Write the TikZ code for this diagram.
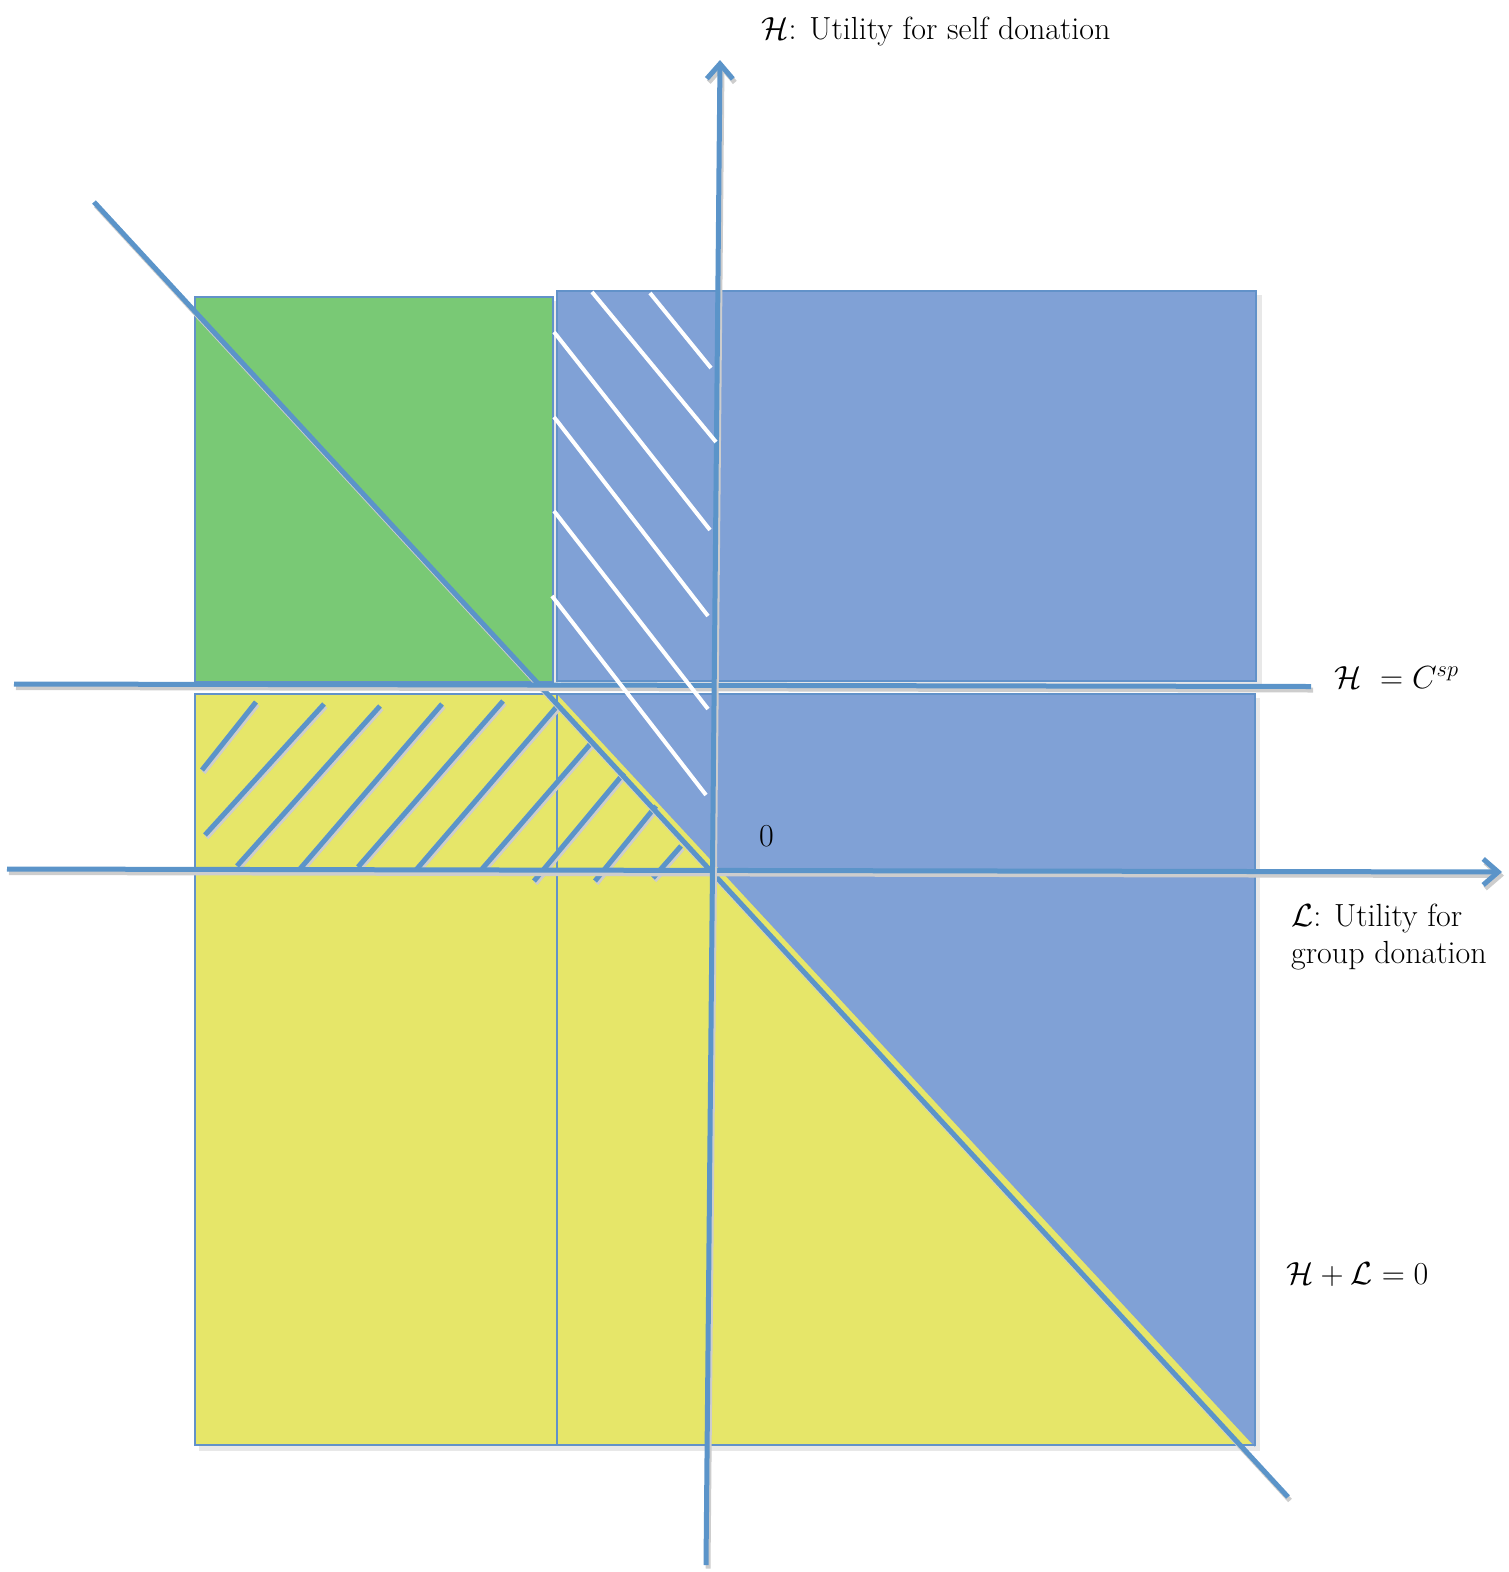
\RequirePackage{fix-cm}
\documentclass[tikz,border=0pt]{standalone}
\usetikzlibrary{arrows.meta}
\definecolor{axisblue}{RGB}{91,148,201}
\definecolor{edgeblue}{RGB}{98,146,201}
\definecolor{fillblue}{RGB}{128,161,214}
\definecolor{fillgreen}{RGB}{121,201,117}
\definecolor{fillyellow}{RGB}{230,230,105}
\definecolor{shade}{RGB}{205,205,205}
\tikzset{
  region/.style={draw=edgeblue, line width=1.6pt},
  regionshadow/.style={fill=black!9, draw=none},
  axisline/.style={draw=axisblue, line width=5pt,
    preaction={draw=shade, line width=5pt, transform canvas={shift={(2pt,-3.5pt)}}}},
  hatchblue/.style={draw=axisblue, line width=5pt,
    preaction={draw=shade, line width=5pt, transform canvas={shift={(1.5pt,-2.5pt)}}}},
  hatchwhite/.style={draw=white, line width=4pt},
  tip/.style={-{Straight Barb[length=15pt,width=26pt]}},
  lbl/.style={font=\fontsize{32}{37}\selectfont, inner sep=0pt, text=black}
}
\begin{document}
\begin{tikzpicture}[x=1pt,y=-1pt]
\useasboundingbox (0,0) rectangle (1508,1572);
% named end points of the lines
\coordinate (ys) at (706,1565);
\coordinate (ye) at (720,60);
\coordinate (xs) at (7,869);
\coordinate (xe) at (1502,872);
\coordinate (cs) at (14,684);
\coordinate (ce) at (1311,686.5);
\coordinate (ds) at (94,202);
\coordinate (de) at (1288,1497);

% shadows of the regions
\fill[regionshadow] (199,301) rectangle (558,687);
\fill[regionshadow] (561,295) rectangle (1262,686);
\fill[regionshadow] (199,698) rectangle (1260,1451);

% regions
\filldraw[region, fill=fillgreen] (195,297) rectangle (553,682);
\filldraw[region, fill=fillblue] (557,291) rectangle (1256,681);
\filldraw[region, fill=fillyellow] (195,694) rectangle (557,1445);
\filldraw[region, fill=fillyellow] (557,694) rectangle (1255,1445);
\filldraw[region, draw=none, fill=fillblue] (557,694) -- (1255,694) -- (1255,1447) -- cycle;
\draw[region] (557,694) rectangle (1255,1445);

% blue hatching in the yellow zone
\foreach \a/\b/\c/\d in {256/702/202/770, 324/704/205/835, 380/706/237/866,
  442/704/299/870, 503/701/358/867, 559/704/416/870, 592/742/482/869,
  624/773/534/881, 656/806/595/881, 681/846/653/878}
  \draw[hatchblue] (\a,\b) -- (\c,\d);

% lines and axes
\draw[axisline] (ds) -- (de);
\draw[axisline] (cs) -- (ce);
\draw[axisline, tip] (xs) -- (xe);
\draw[axisline, tip] (ys) -- (ye);

% white hatching in the blue zone
\foreach \a/\b/\c/\d in {592/292/716/442, 650/293/711/368, 554/332/710/530,
  554/417/708/616, 554/511/708/709, 552/596/706/795}
  \draw[hatchwhite] (\a,\b) -- (\c,\d);

% labels
\node[lbl, anchor=base west] (hlabel) at (761,39) {$\mathcal{H}$: Utility for self donation};
\node[lbl, anchor=base west] (csplabel) at (1334,688) {$\mathcal{H}\ = C^{sp}$};
\node[lbl, anchor=base west] (llabel) at (1291,926)
  {\begin{tabular}[t]{@{}l@{}}$\mathcal{L}$: Utility for\\ group donation\end{tabular}};
\node[lbl, anchor=base west] (sumlabel) at (1286,1284) {$\mathcal{H} + \mathcal{L} = 0$};
\node[lbl, anchor=base west] (zerolabel) at (759,846) {0};
\end{tikzpicture}
\end{document}
